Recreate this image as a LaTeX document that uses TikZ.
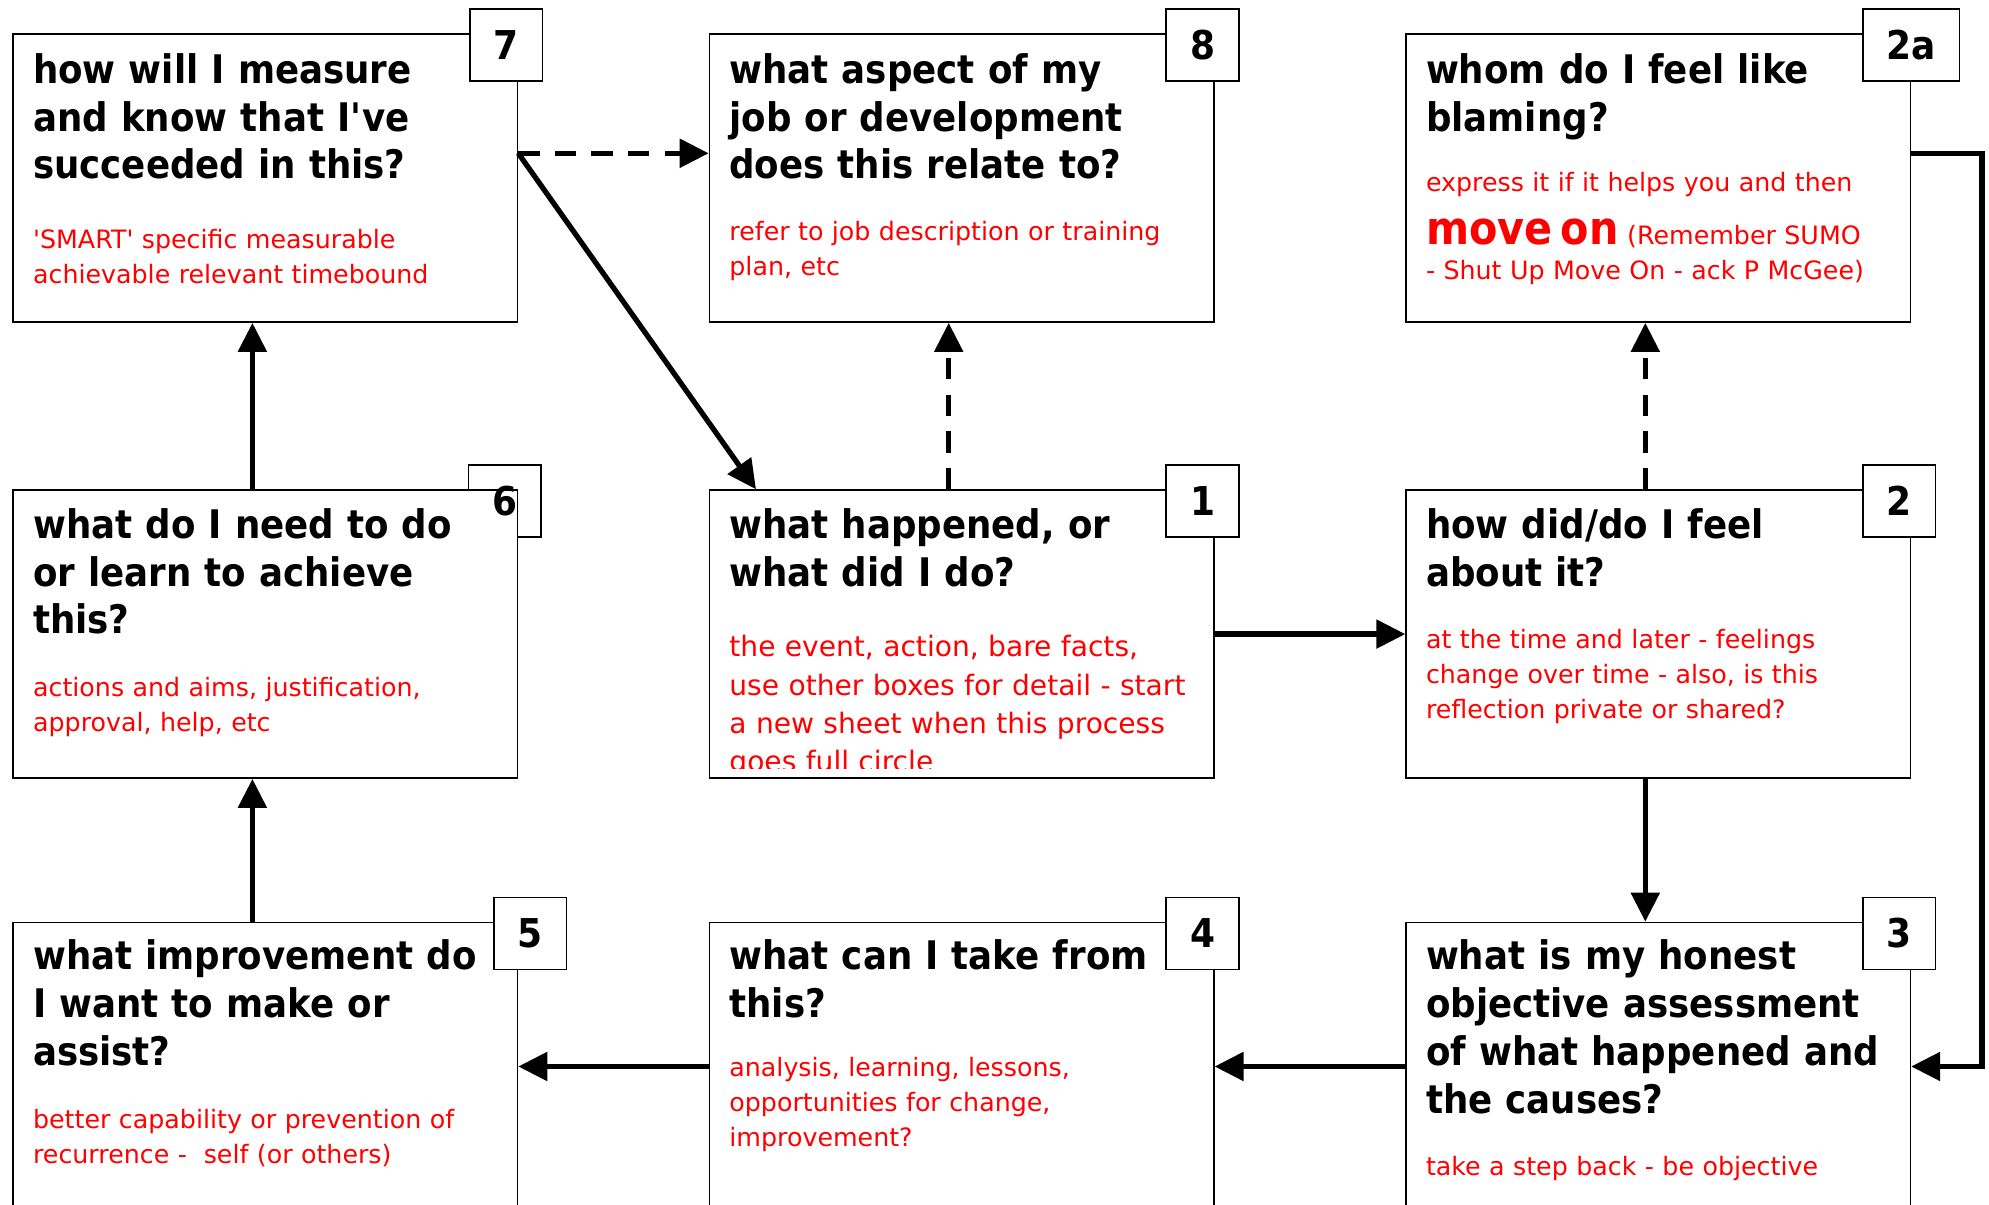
\documentclass[tikz,border=0pt]{standalone}
\usepackage{fontspec}
\setmainfont{DejaVu Sans}
\newfontfamily\headfont{DejaVu Sans}[FakeStretch=0.905]
\usetikzlibrary{arrows.meta}
\usetikzlibrary{positioning}

\begin{document}
\begin{tikzpicture}[
  qbox/.style={draw,line width=0.45pt,fill=white,anchor=north west,minimum width=5.043cm,minimum height=2.88cm,inner sep=0pt},
  numbox/.style={draw,line width=0.45pt,fill=white,minimum width=0.727cm,minimum height=0.717cm,inner sep=0pt,font=\headfont\bfseries\fontsize{11.3}{13.6}\selectfont},
  head/.style={anchor=base west,inner sep=0pt,text width=5.5cm,align=left,font=\headfont\bfseries\fontsize{11.2}{13.6}\selectfont},
  note/.style={anchor=base west,inner sep=0pt,text width=5.5cm,align=left,text=red,font=\fontsize{7.2}{9.96}\selectfont},
  link/.style={line width=1.5pt,-{Triangle[length=2.9mm,width=2.8mm]}},
  dashlink/.style={link,dash pattern=on 2.13mm off 1.53mm}]

\useasboundingbox[fill=white] (0,0) rectangle (19.89,-12.05);

\node[qbox] (b7) at (0.124,-0.333) {};
\node[qbox] (b8) at (7.087,-0.333) {};
\node[qbox] (b2a) at (14.053,-0.333) {};
\node[numbox] (n6) at (5.047,-5.011) {};
\node[qbox] (b6) at (0.124,-4.893) {};
\node[qbox] (b1) at (7.087,-4.893) {};
\node[qbox] (b2) at (14.053,-4.893) {};
\node[qbox] (b5) at (0.124,-9.217) {};
\node[qbox] (b4) at (7.087,-9.217) {};
\node[qbox] (b3) at (14.053,-9.217) {};

\node[numbox] (n7) at ([shift={(-0.12,-0.118)}]b7.north east) {7};
\node[numbox] (n8) at ([shift={(-0.12,-0.118)}]b8.north east) {8};
\node[numbox,minimum width=0.963cm] (n2a) at ([yshift=-0.118cm]b2a.north east) {2a};
\node[numbox,draw=none,fill=none] (l6) at (n6) {6};
\node[numbox] (n1) at ([shift={(-0.12,-0.118)}]b1.north east) {1};
\node[numbox] (n2) at ([shift={(-0.12,-0.118)}]b2.north east) {2};
\node[numbox] (n5) at ([shift={(0.12,-0.118)}]b5.north east) {5};
\node[numbox] (n4) at ([shift={(-0.12,-0.118)}]b4.north east) {4};
\node[numbox] (n3) at ([shift={(-0.12,-0.118)}]b3.north east) {3};

\node[head] (h7) at ([shift={(0.2,-0.5)}]b7.north west) {how will I measure\\and know that I\textquotesingle ve\\succeeded in this?};
\node[note] (r7) at ([shift={(0.2,-2.15)}]b7.north west) {\textquotesingle SMART\textquotesingle{} specific measurable\\achievable relevant timebound};
\node[head] (h8) at ([shift={(0.2,-0.5)}]b8.north west) {what aspect of my\\job or development\\does this relate to?};
\node[note] (r8) at ([shift={(0.2,-2.07)}]b8.north west) {refer to job description or training\\plan, etc};
\node[head] (h2a) at ([shift={(0.2,-0.5)}]b2a.north west) {whom do I feel like\\blaming?};
\node[note] (r2a) at ([shift={(0.2,-1.58)}]b2a.north west) {express it if it helps you and then\\[5.2pt]{\headfont\bfseries\fontsize{13}{10}\selectfont move on }(Remember SUMO\\- Shut Up Move On - ack P McGee)};
\node[head] (h6) at ([shift={(0.2,-0.49)}]b6.north west) {what do I need to do\\or learn to achieve\\this?};
\node[note] (r6) at ([shift={(0.2,-2.07)}]b6.north west) {actions and aims, justification,\\approval, help, etc};
\node[head] (h1) at ([shift={(0.2,-0.49)}]b1.north west) {what happened, or\\what did I do?};
\begin{scope}
\clip (b1.north west) rectangle ([yshift=0.106cm]b1.south east);
\node[note,font=\fontsize{8}{10.9}\selectfont] (r1) at ([shift={(0.2,-1.674)}]b1.north west) {the event, action, bare facts,\\use other boxes for detail - start\\a new sheet when this process\\goes full circle};
\end{scope}
\node[head] (h2) at ([shift={(0.2,-0.49)}]b2.north west) {how did/do I feel\\about it?};
\node[note] (r2) at ([shift={(0.2,-1.59)}]b2.north west) {at the time and later - feelings\\change over time - also, is this\\reflection private or shared?};
\node[head] (h5) at ([shift={(0.2,-0.483)}]b5.north west) {what improvement do\\I want to make or\\assist?};
\node[note] (r5) at ([shift={(0.2,-2.07)}]b5.north west) {better capability or prevention of\\recurrence -~ self (or others)};
\node[head] (h4) at ([shift={(0.2,-0.483)}]b4.north west) {what can I take from\\this?};
\node[note] (r4) at ([shift={(0.2,-1.55)}]b4.north west) {analysis, learning, lessons,\\opportunities for change,\\improvement?};
\node[head] (h3) at ([shift={(0.2,-0.483)}]b3.north west) {what is my honest\\objective assessment\\of what happened and\\the causes?};
\node[note] (r3) at ([shift={(0.2,-2.54)}]b3.north west) {take a step back - be objective};

\coordinate (p7) at ([yshift=-1.2cm]b7.north east);
\draw[dashlink] (p7) -- (p7 -| b8.west);
\draw[link] (p7) -- ([xshift=0.473cm]b1.north west);
\draw[dashlink] ([xshift=2.4cm]b1.north west) -- ([xshift=2.4cm]b8.south west);
\draw[link] (b1.east) -- (b2.west);
\draw[dashlink] ([xshift=2.4cm]b2.north west) -- ([xshift=2.4cm]b2a.south west);
\draw[link] ([xshift=2.4cm]b2.south west) -- ([xshift=2.4cm]b3.north west);
\draw[link] ([yshift=-1.2cm]b2a.north east) -- ++(0.707,0) |- (b3.east);
\draw[link] (b3.west) -- (b4.east);
\draw[link] (b4.west) -- (b5.east);
\draw[link] ([xshift=2.4cm]b5.north west) -- ([xshift=2.4cm]b6.south west);
\draw[link] ([xshift=2.4cm]b6.north west) -- ([xshift=2.4cm]b7.south west);
\end{tikzpicture}
\end{document}
